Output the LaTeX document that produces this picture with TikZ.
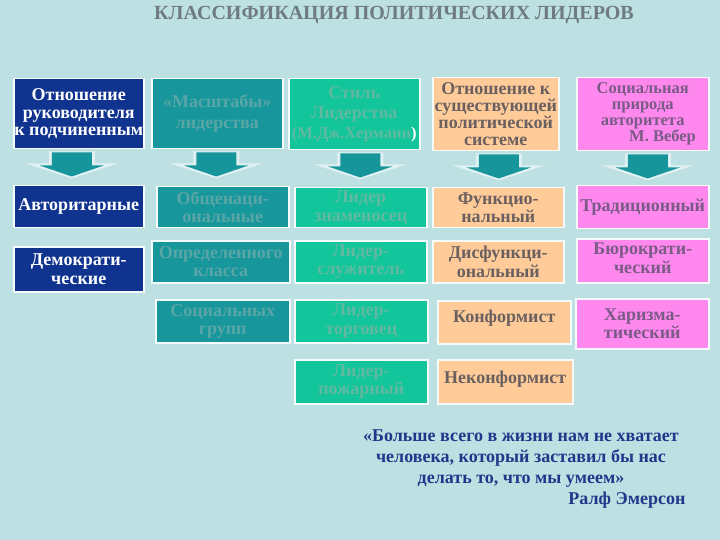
\documentclass[tikz,border=0pt]{standalone}
\usepackage{fontspec}
\setmainfont{Liberation Serif}
\usetikzlibrary{calc}
\definecolor{bg}{HTML}{BDE0E3}
\definecolor{cblue}{HTML}{10338F}
\definecolor{cteal}{HTML}{17979C}
\definecolor{cgreen}{HTML}{12C59A}
\definecolor{cpeach}{HTML}{FFCC99}
\definecolor{cpink}{HTML}{FF88EE}
\definecolor{tteal}{HTML}{5AA6A6}
\definecolor{tgreen}{HTML}{62B9A2}
\definecolor{tpeach}{HTML}{6B6060}
\definecolor{tpink}{HTML}{7A5A86}
\definecolor{tquote}{HTML}{20388A}
\definecolor{ttitle}{HTML}{6F7B80}
\definecolor{arrowteal}{HTML}{16959A}
\newcommand\bx[7]{\node[box,#6,minimum width={(#4-#2)*1pt},minimum height={(#5-#3)*1pt}] (#1) at (#2,#3) {#7};}
\newcommand\barrow[3]{% header node, x offset, target node
  \coordinate (t) at ($(#1.south)+(#2,2)$);
  \fill[white!55!bg] ($(t)+(-23,0)$) -- ($(t)+(23,0)$) -- ($(t)+(23,12)$) -- ($(t)+(46,12)$) -- ($(t)+(0,27)$) -- ($(t)+(-46,12)$) -- ($(t)+(-23,12)$) -- cycle;
  \fill[arrowteal] ($(t)+(-20,1)$) -- ($(t)+(20,1)$) -- ($(t)+(20,14)$) -- ($(t)+(32,14)$) -- ($(t)+(0,25)$) -- ($(t)+(-32,14)$) -- ($(t)+(-20,14)$) -- cycle;
  \path (t) -- (#3.north);}
\begin{document}
\begin{tikzpicture}[x=1pt,y=-1pt,
  box/.style={draw=white!85!bg, line width=1.5pt, inner sep=0pt, align=center,
    font=\bfseries\fontsize{18}{18.5}\selectfont, anchor=north west},
  blue/.style={fill=cblue, text=white},
  teal/.style={fill=cteal, text=tteal},
  green/.style={fill=cgreen, text=tgreen},
  peach/.style={fill=cpeach, text=tpeach},
  pink/.style={fill=cpink, text=tpink}]
\fill[bg] (0,0) rectangle (720,540);
\useasboundingbox (0,0) rectangle (720,540);
\node[font=\bfseries\fontsize{20}{22}\selectfont, text=ttitle] (title) at (394,15) {КЛАССИФИКАЦИЯ ПОЛИТИЧЕСКИХ ЛИДЕРОВ};
% headers
\bx{h1}{13}{78}{143}{148}{blue,font=\bfseries\fontsize{18}{17.5}\selectfont}{Отношение\\руководителя\\к подчиненным}
\bx{h2}{151}{78}{282}{148}{teal,font=\bfseries\fontsize{18}{21}\selectfont}{«Масштабы»\\лидерства}
\bx{h3}{288}{78}{419}{149}{green,font=\bfseries\fontsize{18}{20}\selectfont}{Стиль\\Лидерства\\{\fontsize{16.5}{20}\selectfont(М.Дж.Херманн{\color{white})}}}
\bx{h4}{432}{77}{558}{150}{peach,font=\bfseries\fontsize{18}{17}\selectfont}{Отношение к\\существующей\\политической\\системе}
\bx{h5}{576}{77}{708}{150}{pink,font=\bfseries\fontsize{16.5}{16}\selectfont}{Социальная\\природа\\авторитета\\\hspace*{2.4em}М. Вебер}
% row 2
\bx{a1}{13}{185}{143}{227}{blue}{Авторитарные}
\bx{a2}{156}{186}{288}{227}{teal}{Общенаци-\\ональные}
\bx{a3}{294}{187}{426}{227}{green}{Лидер\\знаменосец}
\bx{a4}{432}{187}{563}{227}{peach}{Функцио-\\нальный}
\bx{a5}{576}{185}{708}{228}{pink}{Традиционный}
% row 3
\bx{b1}{13}{246}{143}{291}{blue}{Демократи-\\ческие}
\bx{b2}{151}{240}{289}{282}{teal}{Определенного\\класса}
\bx{b3}{294}{240}{426}{282}{green}{Лидер-\\служитель}
\bx{b4}{432}{240}{563}{282}{peach}{Дисфункци-\\ональный}
\bx{b5}{576}{238}{708}{282}{pink}{\raisebox{5pt}{\shortstack{Бюрократи-\\ческий}}}
% row 4
\bx{c2}{155}{299}{289}{342}{teal}{Социальных\\групп}
\bx{c3}{294}{299}{427}{342}{green}{Лидер-\\торговец}
\bx{c4}{437}{300}{570}{343}{peach}{\raisebox{11pt}{Конформист}}
\bx{c5}{575}{298}{708}{348}{pink}{Харизма-\\тический}
% row 5
\bx{d3}{294}{359}{427}{403}{green}{Лидер-\\пожарный}
\bx{d4}{437}{359}{572}{403}{peach}{\raisebox{9pt}{Неконформист}}
% arrows
\barrow{h1}{-7}{a1}
\barrow{h2}{-1}{a2}
\barrow{h3}{6}{a3}
\barrow{h4}{3}{a4}
\barrow{h5}{5}{a5}
% quote
\node[font=\bfseries\fontsize{18}{21}\selectfont, text=tquote, align=center, anchor=north] (q) at (521,426)
  {«Больше всего в жизни нам не хватает\\человека, который заставил бы нас\\делать то, что мы умеем»};
\node[font=\bfseries\fontsize{18}{21}\selectfont, text=tquote, anchor=east] (author) at (689,500) {Ралф Эмерсон};
\end{tikzpicture}
\end{document}
